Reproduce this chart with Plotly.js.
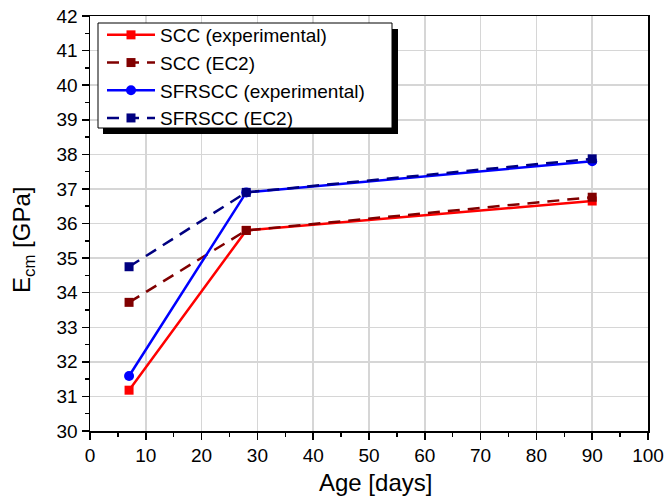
<!DOCTYPE html>
<html>
<head>
<meta charset="utf-8">
<script src="https://cdn.plot.ly/plotly-3.0.1.min.js"></script>
<style>html,body{margin:0;padding:0;background:#fff;}#chart{width:665px;height:502px;}</style>
</head>
<body>
<div id="chart"></div>
<script>
const ageDays = [7, 28, 90];
const sccExperimental = [31.18, 35.80, 36.65];
const sccEC2 = [33.72, 35.80, 36.76];
const sfrsccExperimental = [31.59, 36.90, 37.80];
const sfrsccEC2 = [34.75, 36.90, 37.87];
const seriesNames = ["SCC (experimental)", "SCC (EC2)", "SFRSCC (experimental)", "SFRSCC (EC2)"];
const xTitle = "Age [days]";
const yTitle = "E<sub>cm</sub> [GPa]";

const FONT = "Liberation Sans, Arial, sans-serif";

function tr(y, name, color, dash, symbol) {
  return {
    x: ageDays, y: y, name: name, type: 'scatter', mode: 'lines+markers',
    line: {color: color, width: 2.5, dash: dash},
    marker: {color: color, symbol: symbol, size: symbol === 'circle' ? 10 : 9}
  };
}

const data = [
  tr(sccExperimental, seriesNames[0], '#ff0000', 'solid', 'square'),
  tr(sccEC2, seriesNames[1], '#800000', '12px,8px', 'square'),
  tr(sfrsccExperimental, seriesNames[2], '#0000ff', 'solid', 'circle'),
  tr(sfrsccEC2, seriesNames[3], '#000080', '12px,8px', 'square')
];

const L = 90, R = 17, T = 16, B = 71;
const W = 665 - L - R, H = 502 - T - B;
function px(xp) { return (xp - L) / W; }
function py(yp) { return (502 - B - yp) / H; }

const layout = {
  width: 665, height: 502,
  margin: {l: L, r: R, t: T, b: B, pad: 0},
  paper_bgcolor: '#fff', plot_bgcolor: '#fff',
  font: {family: FONT, size: 19, color: '#000'},
  showlegend: true,
  legend: {
    x: px(102), y: py(16), xanchor: 'left', yanchor: 'top',
    bgcolor: 'rgba(0,0,0,0)', borderwidth: 0,
    font: {family: FONT, size: 19, color: '#000'},
    itemwidth: 48, tracegroupgap: 0
  },
  xaxis: {
    range: [0, 100], dtick: 10, tick0: 0,
    showline: true, linecolor: '#000', linewidth: 1.5, mirror: true,
    ticks: 'outside', ticklen: 7, tickwidth: 1.5, tickcolor: '#000',
    minor: {dtick: 5, ticks: 'outside', ticklen: 4, tickwidth: 1.5, tickcolor: '#000'},
    showgrid: true, gridcolor: '#d6d6d6', gridwidth: 1.5,
    zeroline: false,
    tickfont: {family: FONT, size: 19, color: '#000'}
  },
  yaxis: {
    range: [30, 42], dtick: 1, tick0: 30,
    showline: true, linecolor: '#000', linewidth: 1.5, mirror: true,
    ticks: 'outside', ticklen: 7, tickwidth: 1.5, tickcolor: '#000',
    minor: {dtick: 0.5, ticks: 'outside', ticklen: 4, tickwidth: 1.5, tickcolor: '#000'},
    showgrid: true, gridcolor: '#d6d6d6', gridwidth: 1.5,
    zeroline: false,
    tickfont: {family: FONT, size: 19, color: '#000'}
  },
  annotations: [
    {text: xTitle, xref: 'paper', yref: 'paper', x: px(375), y: py(482),
     xanchor: 'center', yanchor: 'middle', showarrow: false,
     font: {family: FONT, size: 24, color: '#000'}},
    {text: yTitle, xref: 'paper', yref: 'paper', x: px(23), y: py(240),
     xanchor: 'center', yanchor: 'middle', showarrow: false, textangle: -90,
     font: {family: FONT, size: 24, color: '#000'}}
  ],
  shapes: [
    {type: 'rect', xref: 'paper', yref: 'paper', layer: 'above',
     x0: px(103), x1: px(398), y0: py(134), y1: py(29),
     fillcolor: '#000', line: {width: 0}},
    {type: 'rect', xref: 'paper', yref: 'paper', layer: 'above',
     x0: px(98), x1: px(392), y0: py(128), y1: py(23),
     fillcolor: '#fff', line: {color: '#000', width: 1}}
  ]
};

Plotly.newPlot('chart', data, layout, {displayModeBar: false, staticPlot: true});
</script>
</body>
</html>
